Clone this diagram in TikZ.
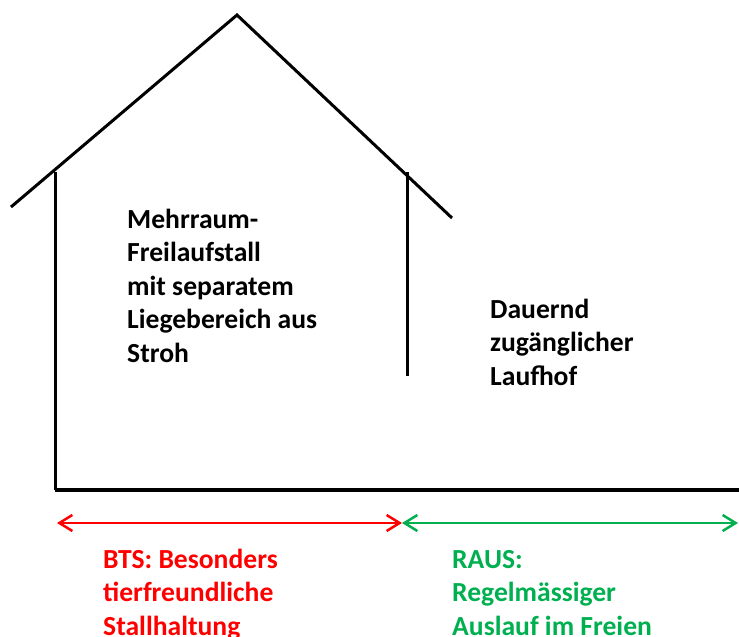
\documentclass[tikz,border=0pt]{standalone}
\usepackage{fontspec}
\setmainfont{Carlito}
\usetikzlibrary{arrows.meta, positioning}
\definecolor{btsred}{RGB}{255,0,0}
\definecolor{rausgreen}{RGB}{0,176,80}

\begin{document}
\begin{tikzpicture}[
        x=1pt, y=-1pt, >={Straight Barb[length=13pt,width=16pt]},
        wall/.style={draw=black, line width=3pt},
        span/.style={<->, line width=2.5pt},
        label/.style={anchor=base west, align=left, inner sep=0pt,
          font=\fontsize{27.6}{33.5}\selectfont\bfseries},
        ]
        \useasboundingbox (0,0) rectangle (739,637);

        % house outline
        \coordinate (apex)     at (237,15);
        \coordinate (roof_l)   at (11,207);
        \coordinate (roof_r)   at (452,218);
        \coordinate (wall_lt)  at (55,172);
        \coordinate (wall_lb)  at (55,490);
        \coordinate (wall_rt)  at (407,172);
        \coordinate (wall_rb)  at (407,376);
        \coordinate (ground_r) at (739,490);

        \draw[wall] (roof_l) -- (apex) -- (roof_r);
        \draw[wall] (wall_lt) -- (wall_lb);
        \draw[wall] (wall_rt) -- (wall_rb);
        \draw[wall, line width=3.5pt] (wall_lb) -- (ground_r);

        % areas (base = last line)
        \node[label] (stall) at (127,362)
          {Mehrraum-\\Freilaufstall\\mit separatem\\Liegebereich aus\\Stroh};
        \node[label] (laufhof) at (490,385)
          {Dauernd\\zugänglicher\\Laufhof};

        % programmes
        \coordinate (bts_l)  at (57,523);
        \coordinate (mid)    at (402,523);
        \coordinate (raus_r) at (738,523);
        \draw[span, btsred]    (bts_l) -- (mid);
        \draw[span, rausgreen] (mid) -- (raus_r);

        \node[label, text=btsred] (bts) at (103,635)
          {BTS: Besonders\\tierfreundliche\\Stallhaltung};
        \node[label, text=rausgreen] (raus) at (452,635)
          {RAUS:\\Regelmässiger\\Auslauf im Freien};
\end{tikzpicture}
\end{document}
